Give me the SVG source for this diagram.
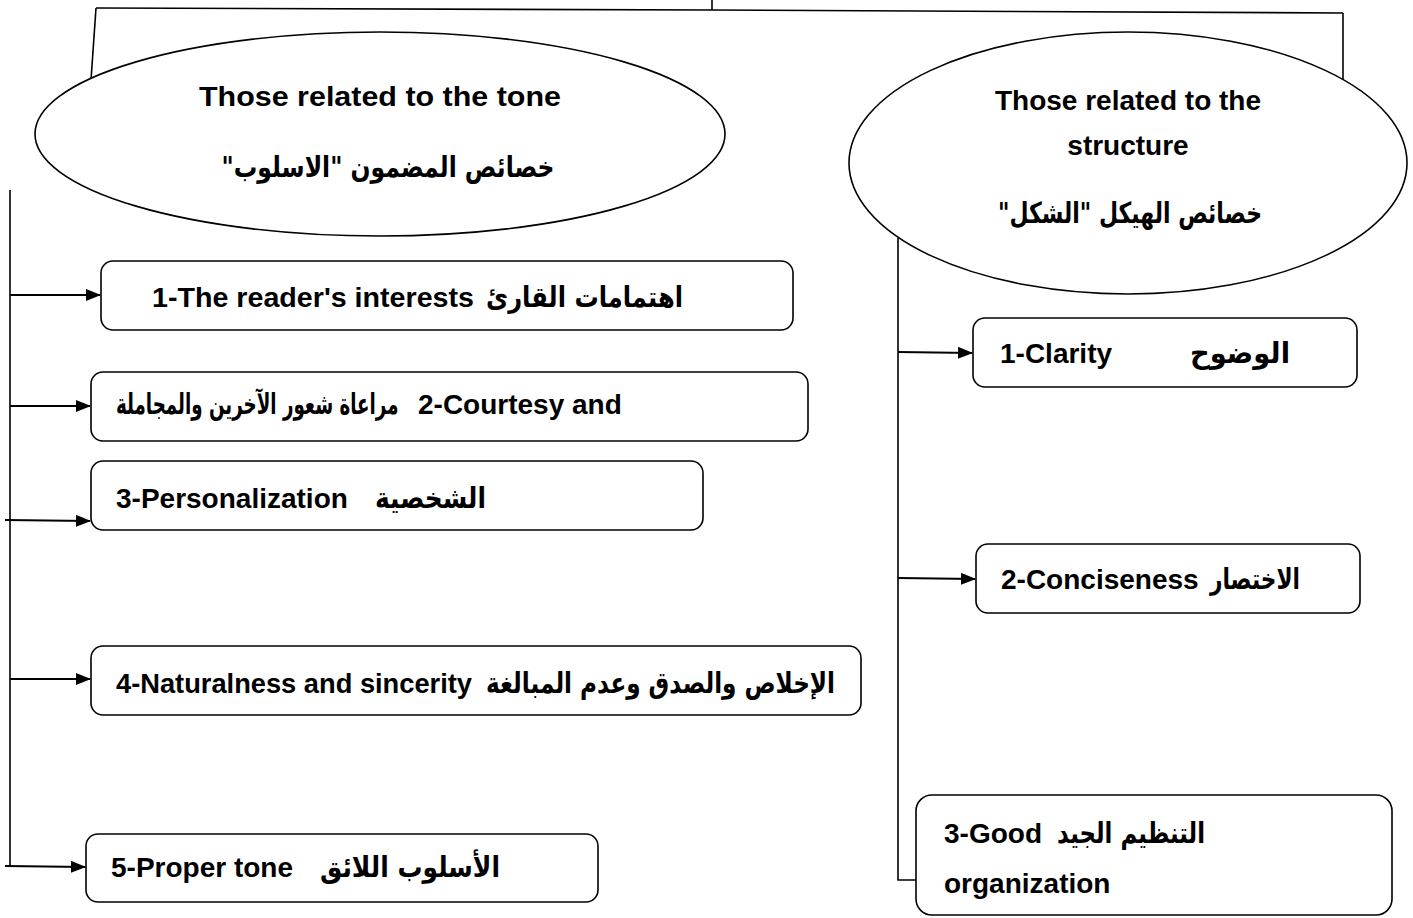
<svg xmlns="http://www.w3.org/2000/svg" width="1413" height="918" viewBox="0 0 1413 918">
<defs>
<marker id="ah" markerWidth="15" markerHeight="12" refX="14" refY="6" orient="auto" markerUnits="userSpaceOnUse">
<path d="M0,0 L15,6 L0,12 Z" fill="#000"/>
</marker>
<style>
.en{font-family:"Liberation Sans","DejaVu Sans",Arial,sans-serif;font-weight:bold;font-size:28px;fill:#000}
.ar{font-family:"DejaVu Sans","Liberation Sans",sans-serif;font-weight:bold;font-size:29px;fill:#000}
.box{fill:#fff;stroke:#000;stroke-width:1.6}
.ell{fill:#fff;stroke:#000;stroke-width:1.6}
.ln{fill:none;stroke:#000;stroke-width:1.6}
.arr{fill:none;stroke:#000;stroke-width:2;marker-end:url(#ah)}
</style>
</defs>
<rect width="1413" height="918" fill="#fff"/>
<g id="connectors">
<path class="ln" d="M712,0 L712,10"/>
<path class="ln" d="M96,8 L712,10 L1343,13"/>
<path class="ln" d="M96,8 L91,80"/>
<path class="ln" d="M1343,13 L1343,82"/>
<path class="ln" d="M10,190 L10,867"/>
<path class="arr" d="M10,295 L100,295"/>
<path class="arr" d="M10,406 L90,406"/>
<path class="arr" d="M5,520 L90,521"/>
<path class="arr" d="M10,679 L90,679"/>
<path class="arr" d="M5,866 L85,867"/>
<path class="ln" d="M898,238 L898,880 L916,880"/>
<path class="arr" d="M898,352 L972,353"/>
<path class="arr" d="M898,578 L975,579"/>
</g>
<g id="tone">
<ellipse class="ell" cx="380" cy="134" rx="345" ry="102"/>
<text class="en" x="380" y="106" text-anchor="middle" font-size="30" textLength="362" lengthAdjust="spacingAndGlyphs">Those related to the tone</text>
<text class="ar" x="388" y="177" text-anchor="middle" direction="rtl" font-size="31" textLength="333" lengthAdjust="spacingAndGlyphs">خصائص المضمون "الاسلوب"</text>
</g>
<g id="structure">
<ellipse class="ell" cx="1128" cy="163" rx="279" ry="131"/>
<text class="en" x="1128" y="110" text-anchor="middle">Those related to the</text>
<text class="en" x="1128" y="155" text-anchor="middle">structure</text>
<text class="ar" x="1130" y="223" text-anchor="middle" direction="rtl" font-size="30" textLength="264" lengthAdjust="spacingAndGlyphs">خصائص الهيكل "الشكل"</text>
</g>
<g id="t1">
<rect class="box" x="101" y="261" width="692" height="69" rx="12"/>
<text class="en" x="152" y="307" textLength="322" lengthAdjust="spacingAndGlyphs">1-The reader's interests</text>
<text class="ar" x="486" y="307" textLength="197" lengthAdjust="spacingAndGlyphs">اهتمامات القارئ</text>
</g>
<g id="t2">
<rect class="box" x="91" y="372" width="717" height="69" rx="12"/>
<text class="ar" transform="translate(116,414) scale(0.63,1)" x="0" y="0" font-size="28">مراعاة شعور الآخرين والمجاملة</text>
<text class="en" x="418" y="414">2-Courtesy and</text>
</g>
<g id="t3">
<rect class="box" x="91" y="461" width="612" height="69" rx="12"/>
<text class="en" x="116" y="508">3-Personalization</text>
<text class="ar" x="375" y="508" textLength="111" lengthAdjust="spacingAndGlyphs">الشخصية</text>
</g>
<g id="t4">
<rect class="box" x="91" y="646" width="770" height="69" rx="12"/>
<text class="en" x="116" y="693" textLength="356" lengthAdjust="spacingAndGlyphs">4-Naturalness and sincerity</text>
<text class="ar" x="486" y="693" textLength="349" lengthAdjust="spacingAndGlyphs">الإخلاص والصدق وعدم المبالغة</text>
</g>
<g id="t5">
<rect class="box" x="86" y="834" width="512" height="68" rx="12"/>
<text class="en" x="111" y="877">5-Proper tone</text>
<text class="ar" x="320" y="877" textLength="180" lengthAdjust="spacingAndGlyphs">الأسلوب اللائق</text>
</g>
<g id="s1">
<rect class="box" x="973" y="318" width="384" height="69" rx="12"/>
<text class="en" x="1000" y="363">1-Clarity</text>
<text class="ar" x="1190" y="363" textLength="100" lengthAdjust="spacingAndGlyphs">الوضوح</text>
</g>
<g id="s2">
<rect class="box" x="976" y="544" width="384" height="69" rx="12"/>
<text class="en" x="1001" y="589">2-Conciseness</text>
<text class="ar" x="1210" y="589" textLength="90" lengthAdjust="spacingAndGlyphs">الاختصار</text>
</g>
<g id="s3">
<rect class="box" x="916" y="795" width="476" height="120" rx="16"/>
<text class="en" x="944" y="843">3-Good</text>
<text class="ar" x="1057" y="843" textLength="148" lengthAdjust="spacingAndGlyphs">التنظيم الجيد</text>
<text class="en" x="944" y="893">organization</text>
</g>
</svg>
